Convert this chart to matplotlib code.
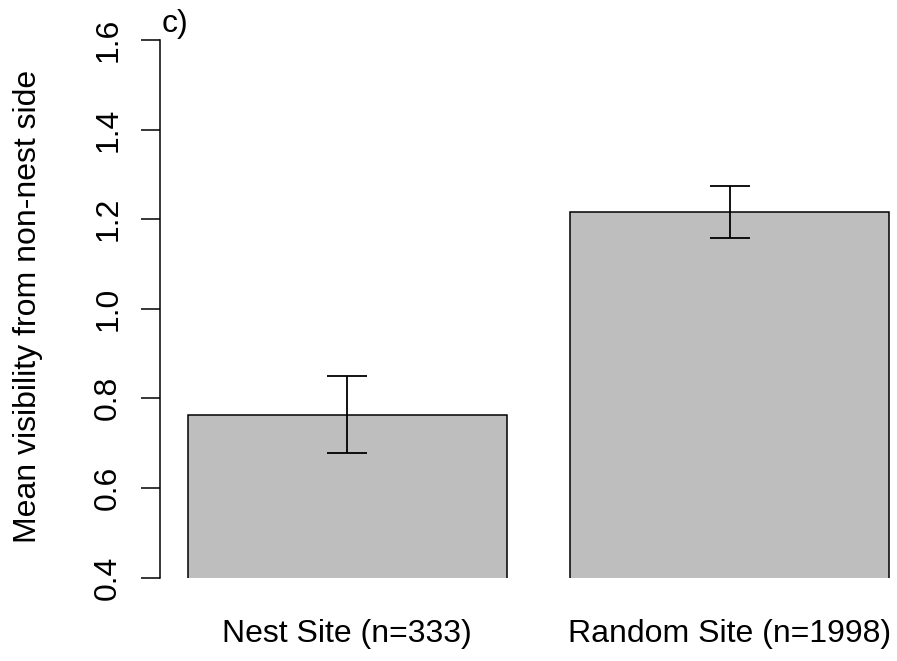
import matplotlib
matplotlib.use("Agg")
import matplotlib.pyplot as plt

plt.rcParams['font.family'] = ['Liberation Sans', 'DejaVu Sans']

# data
sites = ["Nest Site (n=333)", "Random Site (n=1998)"]
means = [0.763, 1.216]
se = [0.086, 0.057]
panel = "c)"

# R barplot geometry: width 1, space 0.2
centers = [0.7, 1.9]

fig = plt.figure(figsize=(8.97, 6.61), dpi=100)
ax = fig.add_axes([160 / 897, (661 - 577.5) / 661, 757 / 897, 537.5 / 661])

ax.bar(centers, means, width=1.0, color="#BEBEBE", edgecolor="black", linewidth=1.1)
ax.errorbar(centers, means, yerr=se, fmt="none", ecolor="black",
            elinewidth=1.3, capsize=14.4, capthick=1.3)

ax.set_xlim(0.112, 2.488)
ax.set_ylim(0.4, 1.6)

for s in ["top", "right", "bottom"]:
    ax.spines[s].set_visible(False)
ax.spines["left"].set_bounds(0.4, 1.6)
ax.spines["left"].set_linewidth(1.1)

ax.set_yticks([0.4, 0.6, 0.8, 1.0, 1.2, 1.4, 1.6])
ax.set_yticklabels(["0.4", "0.6", "0.8", "1.0", "1.2", "1.4", "1.6"],
                   rotation=90, va="center")
ax.tick_params(axis="y", length=14, width=1.1, pad=12.5, labelsize=23)

ax.set_xticks(centers)
ax.set_xticklabels(sites)
ax.tick_params(axis="x", length=0, pad=30, labelsize=23)

ax.set_ylabel("Mean visibility from non-nest side", fontsize=23, va="center")
ax.yaxis.set_label_coords((28 - 160) / 757, 0.505)

fig.text(162 / 897, 1 - 32 / 661, panel, fontsize=23, va="baseline")

fig.savefig("out.png", dpi=100)
